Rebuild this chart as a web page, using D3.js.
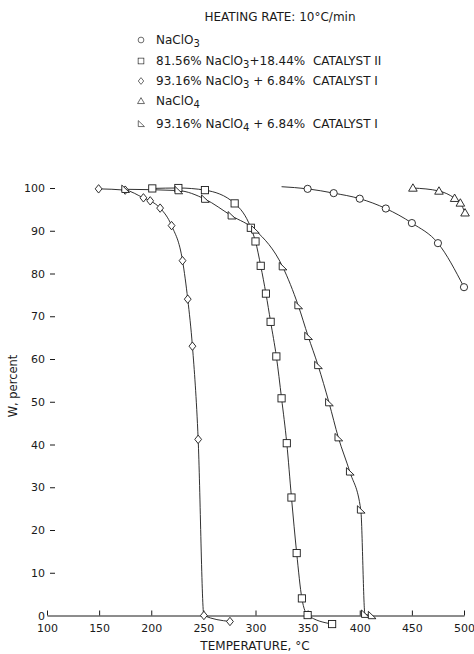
<!DOCTYPE html>
<html><head><meta charset="utf-8">
<script src="https://cdn.jsdelivr.net/npm/d3@7"></script>
<style>body{margin:0;background:#fff}svg{display:block}</style>
</head><body>
<svg id="c" width="474" height="654"></svg>
<script>
// ---- data ----
const xTicks = [100,150,200,250,300,350,400,450,500];
const yTicks = [0,10,20,30,40,50,60,70,80,90,100];

// NaClO3 (circles); first point is the line lead-in without marker
const naclo3T = [325,350,375,400,425,450,475,500];
const naclo3W = [100.3,99.8,98.8,97.5,95.2,91.8,87.1,76.8];

// 81.56% NaClO3 + 18.44% catalyst II (squares)
const catIIT = [201,226,251.5,280,295.5,300,305,310,314.5,320,325,330,334.5,339.5,344.5,350,373.5];
const catIIW = [99.9,100,99.5,96.4,90.7,87.5,81.8,75.3,68.7,60.6,50.8,40.3,27.6,14.6,4.0,0.1,-2.0];

// 93.16% NaClO3 + 6.84% catalyst I (diamonds)
const catI3T = [149.5,175,192.5,199,208.5,219.5,230,235,239.5,245,250.5,275.5];
const catI3W = [99.8,99.5,97.7,97,95.3,91.2,83,74,63,41.2,0,-1.4];

// NaClO4 (triangles)
const naclo4T = [451,476,491,496.5,501];
const naclo4W = [100,99.3,97.6,96.5,94.2];

// 93.16% NaClO4 + 6.84% catalyst I (right triangles)
const catI4T = [175,226,251.5,277,299.5,326,341,350.5,360,370.5,379.5,390.5,401,405,411.5];
const catI4W = [99.7,99.4,97.4,93.5,90.2,81.6,72.5,65.3,58.5,49.8,41.6,33.6,24.7,0.3,0];

const legendTitle = "HEATING RATE: 10\u00B0C/min";

// ---- chart ----
const svg = d3.select("#c");
const FONT = "DejaVu Sans, sans-serif";
const ink = "#1a1a1a";

const x = d3.scaleLinear().domain([100,500]).range([47,464]);
const y = d3.scaleLinear().domain([0,100]).range([615.5,188]);

// x axis (ticks pointing up)
const xAxis = d3.axisBottom(x).tickValues(xTicks).tickSizeInner(-5).tickSizeOuter(0).tickPadding(9);
const gx = svg.append("g").attr("transform",`translate(0,${y(0)})`).call(xAxis);
gx.select(".domain").attr("stroke",ink).attr("stroke-width",1);
gx.selectAll(".tick line").attr("stroke",ink).attr("stroke-width",1);
gx.selectAll(".tick text").attr("font-family",FONT).attr("font-size",11).attr("fill",ink);

// y axis: only short dashes, no axis line
const yAxis = d3.axisLeft(y).tickValues(yTicks).tickSize(0).tickPadding(0);
const gy = svg.append("g").attr("transform","translate(45,0)").call(yAxis);
gy.select(".domain").remove();
gy.selectAll(".tick text").attr("font-family",FONT).attr("font-size",11).attr("fill",ink).attr("x",0);
gy.selectAll(".tick").filter(d=>d>0).append("line").attr("x1",5).attr("x2",10).attr("stroke",ink).attr("stroke-width",1);

// axis titles
svg.append("text").attr("x",255).attr("y",650).attr("text-anchor","middle")
  .attr("font-family",FONT).attr("font-size",12).attr("fill",ink).text("TEMPERATURE, \u00B0C");
svg.append("text").attr("transform","translate(17,386) rotate(-90)").attr("text-anchor","middle")
  .attr("font-family",FONT).attr("font-size",11.5).attr("fill",ink).text("W, percent");

// symbols
const sym = {
  circle: g => g.append("circle").attr("r",3.6),
  square: g => g.append("rect").attr("x",-3.6).attr("y",-3.6).attr("width",7.2).attr("height",7.2),
  diamond: g => g.append("path").attr("d","M0,-4.2L3.4,0L0,4.2L-3.4,0Z"),
  triangle: g => g.append("path").attr("d","M0,-4.2L4.3,3.2L-4.3,3.2Z"),
  rtri: g => g.append("path").attr("d","M-3.4,-4.2L-3.4,3.2L4.3,3.2Z")
};

const series = [
  {T:naclo3T, W:naclo3W, s:"circle", skip:1},
  {T:catIIT, W:catIIW, s:"square", skip:0},
  {T:catI3T, W:catI3W, s:"diamond", skip:0},
  {T:naclo4T, W:naclo4W, s:"triangle", skip:0},
  {T:catI4T, W:catI4W, s:"rtri", skip:0}
];

const line = d3.line().x(d=>x(d[0])).y(d=>y(d[1])).curve(d3.curveMonotoneX);
series.forEach(se=>{
  const pts = se.T.map((t,i)=>[t,se.W[i]]);
  svg.append("path").attr("d",line(pts)).attr("fill","none").attr("stroke",ink).attr("stroke-width",0.9);
});
series.forEach(se=>{
  const pts = se.T.map((t,i)=>[t,se.W[i]]).slice(se.skip);
  pts.forEach(p=>{
    const g = svg.append("g").attr("transform",`translate(${x(p[0])},${y(p[1])})`);
    sym[se.s](g).attr("fill","#fff").attr("stroke",ink).attr("stroke-width",0.9);
  });
});

// legend
svg.append("text").attr("x",280).attr("y",21).attr("text-anchor","middle")
  .attr("font-family",FONT).attr("font-size",12).attr("fill",ink).text(legendTitle);

const legendRows = [
  {s:"circle", parts:[["NaClO"],["3","sub"]]},
  {s:"square", parts:[["81.56% NaClO"],["3","sub"],["+18.44%  CATALYST II"]]},
  {s:"diamond", parts:[["93.16% NaClO"],["3","sub"],[" + 6.84%  CATALYST I"]]},
  {s:"triangle", parts:[["NaClO"],["4","sub"]]},
  {s:"rtri", parts:[["93.16% NaClO"],["4","sub"],[" + 6.84%  CATALYST I"]]}
];
const rowY = [40,61,81,101,124];
legendRows.forEach((r,i)=>{
  const g = svg.append("g").attr("transform",`translate(141,${rowY[i]})`);
  const m = sym[r.s](g).attr("fill","#fff").attr("stroke",ink).attr("stroke-width",0.8);
  m.attr("transform","scale(0.8)");
  const t = svg.append("text").attr("x",156).attr("y",rowY[i]+4)
    .attr("font-family",FONT).attr("font-size",12).attr("fill",ink).attr("xml:space","preserve");
  r.parts.forEach(p=>{
    if (p[1]==="sub") {
      t.append("tspan").attr("dy",3).attr("font-size",10).text(p[0]);
    } else {
      const ts = t.append("tspan").text(p[0]);
      if (t.selectAll("tspan").size()>1) ts.attr("dy",-3);
    }
  });
});
</script>
</body></html>
